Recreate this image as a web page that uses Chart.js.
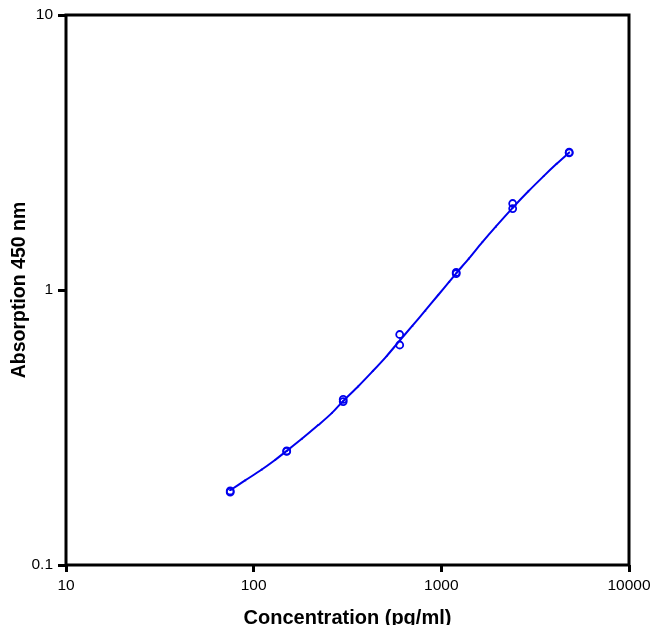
<!DOCTYPE html>
<html>
<head>
<meta charset="utf-8">
<style>
  html, body { margin: 0; padding: 0; overflow: hidden; background: #ffffff; }
  #wrap { width: 657px; height: 632px; }
</style>
<script src="https://cdn.jsdelivr.net/npm/chart.js@4/dist/chart.umd.min.js"></script>
</head>
<body>
<div id="wrap"><canvas id="c" width="657" height="632"></canvas></div>
<script>
// ---- data ----
const concentrations = [75, 150, 300, 600, 1200, 2400, 4800];
const replicate1 = [0.186, 0.260, 0.400, 0.689, 1.158, 2.063, 3.17];
const replicate2 = [0.184, 0.259, 0.393, 0.631, 1.146, 1.978, 3.15];

const fitX = [75, 90, 110, 130, 150, 180, 220, 260, 300, 360, 430, 510, 600, 700, 820, 960, 1100, 1200, 1400, 1650, 1950, 2400, 2900, 3500, 4100, 4800];
const fitY = [0.187, 0.203, 0.222, 0.241, 0.260, 0.287, 0.322, 0.356, 0.395, 0.446, 0.506, 0.574, 0.655, 0.740, 0.841, 0.957, 1.07, 1.15, 1.30, 1.49, 1.70, 1.99, 2.28, 2.59, 2.87, 3.16];

const xTicks = [10, 100, 1000, 10000];
const yTicks = [0.1, 1, 10];

const xTitle = 'Concentration (pg/ml)';
const yTitle = 'Absorption 450 nm';

// ---- styling ----
const BLUE = '#0000ee';
const FONT = "'Liberation Sans', Arial, Helvetica, sans-serif";

const toPoints = (xs, ys) => xs.map((x, i) => ({ x: x, y: ys[i] }));

const framePlugin = {
  id: 'frame',
  afterDraw(chart) {
    const a = chart.chartArea;
    const ctx = chart.ctx;
    ctx.save();
    ctx.strokeStyle = '#000';
    ctx.lineWidth = 3;
    ctx.strokeRect(a.left, a.top, a.right - a.left, a.bottom - a.top);
    ctx.restore();
  }
};

new Chart(document.getElementById('c').getContext('2d'), {
  type: 'scatter',
  data: {
    datasets: [
      {
        label: 'Fit',
        data: toPoints(fitX, fitY),
        showLine: true,
        borderColor: BLUE,
        borderWidth: 2,
        tension: 0.3,
        pointStyle: 'triangle',
        pointRadius: 1.5,
        pointBorderWidth: 0,
        pointBackgroundColor: BLUE,
        order: 3
      },
      {
        label: 'Replicate 1',
        data: toPoints(concentrations, replicate1),
        showLine: false,
        pointStyle: 'circle',
        pointRadius: 3.5,
        pointBorderWidth: 1.8,
        pointBorderColor: BLUE,
        pointBackgroundColor: 'rgba(255,255,255,0)',
        order: 1
      },
      {
        label: 'Replicate 2',
        data: toPoints(concentrations, replicate2),
        showLine: false,
        pointStyle: 'circle',
        pointRadius: 3.5,
        pointBorderWidth: 1.8,
        pointBorderColor: BLUE,
        pointBackgroundColor: 'rgba(255,255,255,0)',
        order: 2
      }
    ]
  },
  options: {
    responsive: false,
    animation: false,
    devicePixelRatio: 1,
    layout: { padding: { left: 0, top: 15, right: 28, bottom: 0 } },
    plugins: { legend: { display: false }, tooltip: { enabled: false } },
    scales: {
      x: {
        type: 'logarithmic',
        position: 'bottom',
        min: 10,
        max: 10000,
        afterBuildTicks: (s) => { s.ticks = xTicks.map(v => ({ value: v })); },
        afterFit: (s) => { s.height = 67; },
        ticks: {
          callback: (v) => String(v),
          color: '#000',
          font: { family: FONT, size: 15.5 },
          padding: 4,
          maxRotation: 0,
          autoSkip: false
        },
        grid: { display: true, drawOnChartArea: false, drawTicks: true, tickLength: 7, tickWidth: 3, tickColor: '#000' },
        border: { display: false },
        title: {
          display: true,
          text: xTitle,
          color: '#000',
          font: { family: FONT, size: 20, weight: 'bold' },
          padding: { top: 0, bottom: 2 }
        }
      },
      y: {
        type: 'logarithmic',
        position: 'left',
        min: 0.1,
        max: 10,
        afterBuildTicks: (s) => { s.ticks = yTicks.map(v => ({ value: v })); },
        afterFit: (s) => { s.width = 66; },
        ticks: {
          callback: (v) => String(v),
          color: '#000',
          font: { family: FONT, size: 15.5 },
          padding: 5,
          autoSkip: false
        },
        grid: { display: true, drawOnChartArea: false, drawTicks: true, tickLength: 8, tickWidth: 3, tickColor: '#000' },
        border: { display: false },
        title: {
          display: true,
          text: yTitle,
          color: '#000',
          font: { family: FONT, size: 19.5, weight: 'bold' },
          padding: { top: 8, bottom: 0 }
        }
      }
    }
  },
  plugins: [framePlugin]
});
</script>
</body>
</html>
